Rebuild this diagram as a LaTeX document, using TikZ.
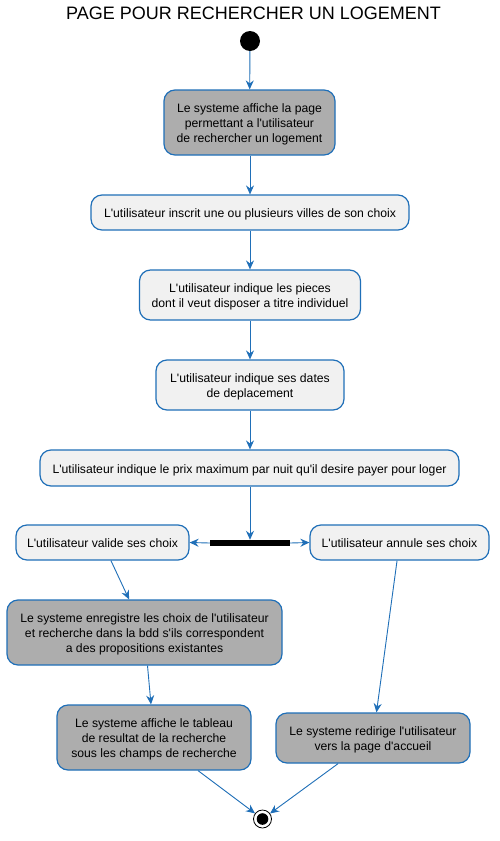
\documentclass[tikz,border=0pt]{standalone}
\usepackage{fontspec}
\newfontfamily\uf{Liberation Sans}[Ligatures=NoCommon]
\usetikzlibrary{arrows.meta}
\definecolor{umlblue}{HTML}{1F6FB8}
\definecolor{lightbox}{HTML}{F1F1F1}
\definecolor{darkbox}{HTML}{ADADAD}
\newcommand\lowtxt[1]{\raisebox{-2.3pt}[\height][\depth]{\begin{tabular}{@{}c@{}}#1\end{tabular}}}
\begin{document}
\begin{tikzpicture}[x=1pt,y=-1pt,
  act/.style={draw=umlblue, line width=1.2pt, rounded corners=11pt, inner sep=0pt, font=\uf\fontsize{12.2}{15}\selectfont},
  lact/.style={act, fill=lightbox},
  dact/.style={act, fill=darkbox},
  flow/.style={draw=umlblue, line width=0.9pt, -{Stealth[length=9pt,width=8pt,inset=3pt]}}]
\useasboundingbox[fill=white] (0,0) rectangle (500,841);
\node[font=\uf\fontsize{18}{21}\selectfont] (title) at (253.5,13.5) {PAGE POUR RECHERCHER UN LOGEMENT};
\node[circle, fill=black, minimum size=20pt, inner sep=0pt] (start) at (250,41) {};
\node[dact, minimum width=171pt, minimum height=65pt] (b1) at (249.5,122.5) {\lowtxt{Le systeme affiche la page\\permettant a l'utilisateur\\de rechercher un logement}};
\node[lact, minimum width=318pt, minimum height=35pt] (b2) at (250,212.5) {\lowtxt{L'utilisateur inscrit une ou plusieurs villes de son choix}};
\node[lact, minimum width=221pt, minimum height=50pt] (b3) at (250,295) {\lowtxt{L'utilisateur indique les pieces\\dont il veut disposer a titre individuel}};
\node[lact, minimum width=188pt, minimum height=50pt] (b4) at (250,385) {\lowtxt{L'utilisateur indique ses dates\\de deplacement}};
\node[lact, minimum width=419pt, minimum height=36pt] (b5) at (249.5,468) {\lowtxt{L'utilisateur indique le prix maximum par nuit qu'il desire payer pour loger}};
\node[fill=black, minimum width=80pt, minimum height=6pt, inner sep=0pt] (fork) at (250,543) {};
\node[lact, minimum width=173pt, minimum height=35pt] (b6) at (102.5,542.5) {\lowtxt{L'utilisateur valide ses choix}};
\node[lact, minimum width=179pt, minimum height=35pt] (b7) at (399.5,542.5) {\lowtxt{L'utilisateur annule ses choix}};
\node[dact, minimum width=275pt, minimum height=65pt] (b8) at (144.5,632.5) {\lowtxt{Le systeme enregistre les choix de l'utilisateur\\et recherche dans la bdd s'ils correspondent\\a des propositions existantes}};
\node[dact, minimum width=194pt, minimum height=65pt] (b9) at (154,737.5) {\lowtxt{Le systeme affiche le tableau\\de resultat de la recherche\\sous les champs de recherche}};
\node[dact, minimum width=194pt, minimum height=50pt] (b10) at (373,738) {\lowtxt{Le systeme redirige l'utilisateur\\vers la page d'accueil}};
\node[circle, draw=black, line width=0.8pt, fill=white, minimum size=18pt, inner sep=0pt] (end) at (262.5,819) {};
\fill[black] (end.center) circle (5.8);
\draw[flow] (start) -- (b1);
\draw[flow] (b1.south -| start) -- (b2.north -| start);
\draw[flow] (b2.south -| start) -- (b3.north -| start);
\draw[flow] (b3.south -| start) -- (b4.north -| start);
\draw[flow] (b4.south -| start) -- (b5.north -| start);
\draw[flow] (b5.south -| start) -- (fork.north -| start);
\draw[flow] (fork.west) -- (b6.east);
\draw[flow] (fork.east) -- (b7.west);
\draw[flow] (b6) -- (b8);
\draw[flow] (b8) -- (b9);
\draw[flow] (b7) -- (b10);
\draw[flow] (b9) -- (end);
\draw[flow] (b10) -- (end);
\end{tikzpicture}
\end{document}
